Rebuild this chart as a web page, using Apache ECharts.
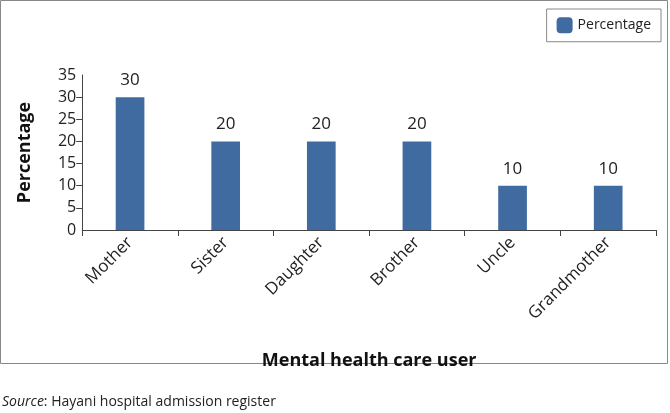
<!DOCTYPE html>
<style>
body {margin: 0;}
#div_echart {height: 413px; width: 670px;}
</style>
<script src='https://cdn.jsdelivr.net/npm/echarts@6/dist/echarts.min.js'></script>
<div id='div_echart'></div>
<script>
let categories = ['Mother', 'Sister', 'Daughter', 'Brother', 'Uncle', 'Grandmother']
let percentages = [30, 20, 20, 20, 10, 10]
let y_min = 0
let y_max = 35
let y_step = 5
let font = "'Open Sans', 'Liberation Sans', sans-serif"
let echart = echarts.init(document.getElementById('div_echart'))
// echarts drops the 2nd/2nd-last label when the end labels are forced, so the
// end labels come from a second, overlaid axis
let y_label = {fontSize: 16, color: '#222', margin: 6, fontFamily: font}
echart.setOption({
	animation: false,
	textStyle: {fontFamily: font},
	grid: {left: 79, right: 14, top: 75, bottom: 183},
	legend: {
		right: 9, top: 9, padding: [5, 10, 5, 10],
		borderColor: '#888', borderWidth: 1,
		itemWidth: 16, itemHeight: 16,
		textStyle: {fontSize: 14, color: '#222', fontFamily: font},
		data: ['Percentage']
	},
	xAxis: {
		type: 'category', data: categories,
		name: 'Mental health care user', nameLocation: 'middle', nameGap: 114,
		nameTextStyle: {fontSize: 18, fontWeight: 'bold', color: '#111', fontFamily: font},
		axisLine: {lineStyle: {color: '#444'}},
		axisTick: {show: true, length: 6, lineStyle: {color: '#444'}},
		axisLabel: {rotate: 45, fontSize: 17, color: '#222', margin: 10, interval: 0, fontFamily: font}
	},
	yAxis: [{
		type: 'value', position: 'left', min: y_min, max: y_max, interval: y_step,
		name: 'Percentage', nameLocation: 'middle', nameGap: 41,
		nameTextStyle: {fontSize: 18, fontWeight: 'bold', color: '#111', fontFamily: font},
		axisLine: {show: true, lineStyle: {color: '#444'}},
		axisTick: {show: true, length: 6, lineStyle: {color: '#444'}},
		axisLabel: Object.assign({showMinLabel: false, showMaxLabel: false}, y_label),
		splitLine: {show: false}
	}, {
		type: 'value', position: 'left', min: y_min, max: y_max, interval: y_step,
		axisLine: {show: false}, axisTick: {show: false}, splitLine: {show: false},
		axisLabel: Object.assign({
			showMinLabel: true, showMaxLabel: true,
			formatter: v => (v === y_min || v === y_max) ? String(v) : ''
		}, y_label)
	}],
	series: [{
		name: 'Percentage', type: 'bar', data: percentages, barWidth: '30%',
		itemStyle: {color: '#3f6ba1'},
		label: {show: true, position: 'top', fontSize: 17, color: '#222', distance: 3, fontFamily: font}
	}],
	graphic: [
		{type: 'rect', shape: {x: 0.5, y: 0.5, width: 667, height: 363}, style: {fill: 'none', stroke: '#888', lineWidth: 1}, silent: true},
		{type: 'text', left: 2, top: 391, style: {
			text: '{i|Source}: Hayani hospital admission register',
			font: '14px ' + font, fill: '#222',
			rich: {i: {fontStyle: 'italic', fontSize: 14, fontFamily: font, fill: '#222'}}
		}}
	]
})
</script>
